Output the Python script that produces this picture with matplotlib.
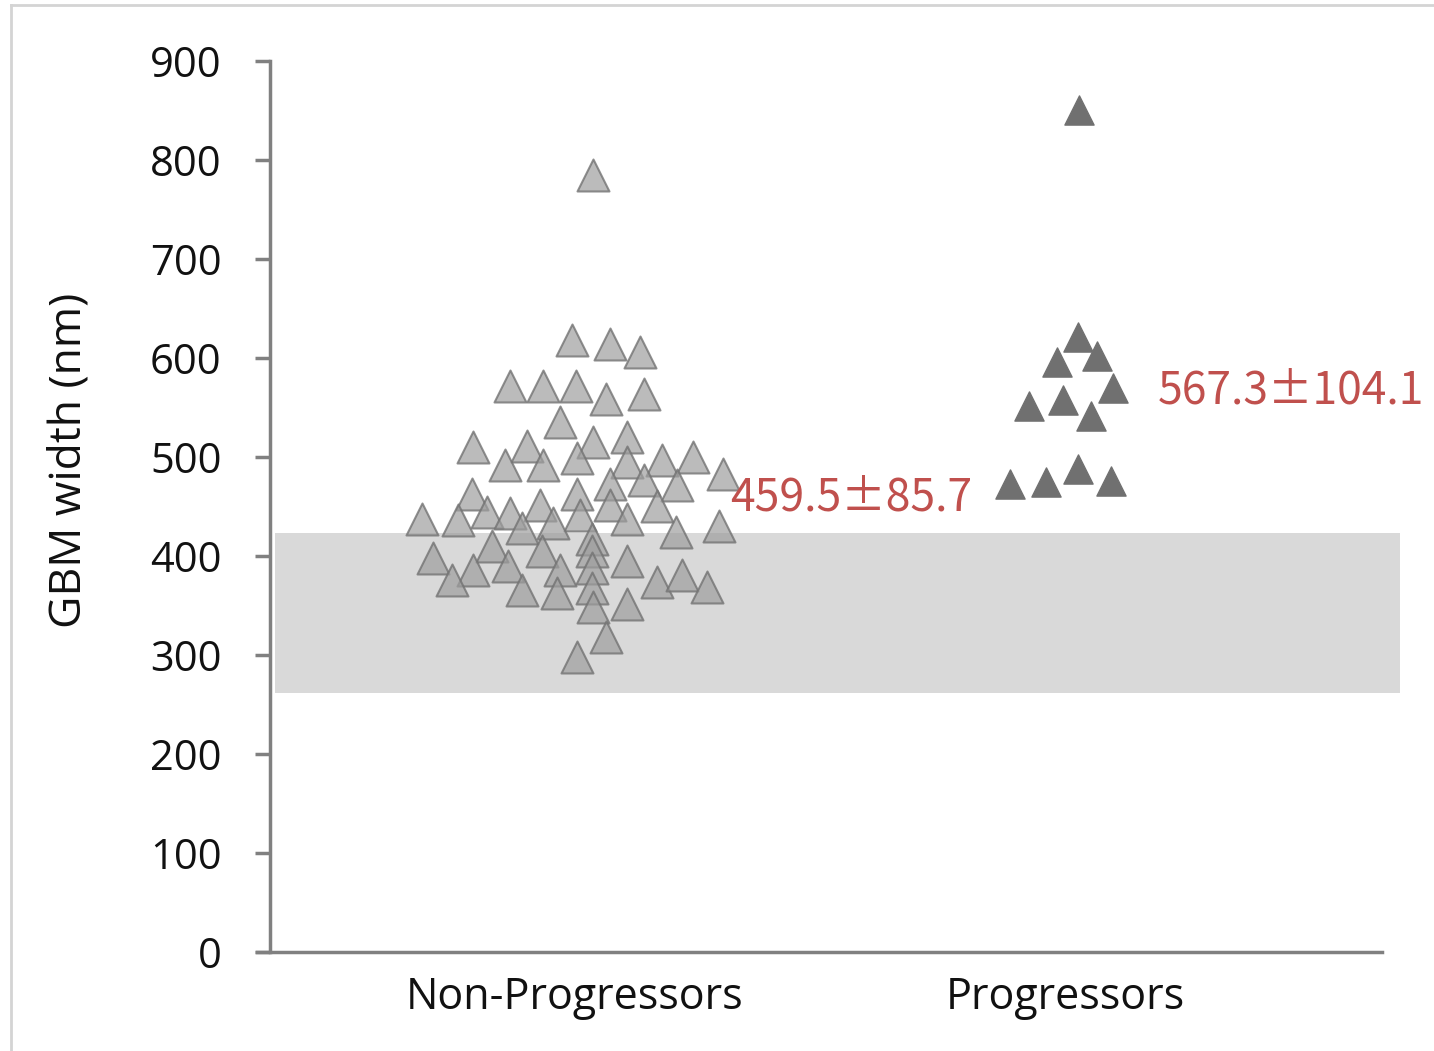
import matplotlib
matplotlib.use("Agg")
import matplotlib.pyplot as plt
from matplotlib.lines import Line2D

# ---------------- data ----------------
categories = ["Non-Progressors", "Progressors"]

non_prog_values = [618, 614, 606, 572, 572, 572, 559, 564, 535, 510,
                   511, 515, 520, 492, 492, 499, 495, 497, 500, 483,
                   477, 473, 472, 463, 463, 437, 436, 444, 443, 452,
                   452, 451, 441, 428, 433, 437, 424, 430, 417, 410,
                   398, 405, 405, 395, 386, 390, 386, 388, 376, 366,
                   363, 368, 374, 381, 369, 348, 352, 318, 298, 785]
non_prog_jitter = [-0.006, 0.071, 0.133, -0.133, -0.065, 0.002, 0.063, 0.141, -0.031, -0.208,
                   -0.098, 0.037, 0.106, -0.143, -0.065, 0.004, 0.106, 0.178, 0.241, 0.302,
                   0.141, 0.071, 0.208, -0.210, 0.004, -0.312, -0.239, -0.180, -0.133, -0.071,
                   0.071, 0.167, 0.010, -0.108, -0.045, 0.106, 0.206, 0.294, 0.035, -0.169,
                   -0.290, -0.067, 0.035, 0.106, -0.208, -0.137, -0.031, 0.035, -0.251, -0.108,
                   -0.037, 0.035, 0.167, 0.218, 0.269, 0.037, 0.106, 0.063, 0.004, 0.037]

prog_values = [851, 621, 596, 602, 570, 552, 558, 541, 473, 475, 488, 476]
prog_jitter = [0.029, 0.027, -0.016, 0.065, 0.098, -0.073, -0.004, 0.053, -0.112, -0.039, 0.027, 0.094]

normal_range = [262, 423]
summary_labels = ["459.5\u00b185.7", "567.3\u00b1104.1"]
summary_means = [459.5, 567.3]

yticks = [0, 100, 200, 300, 400, 500, 600, 700, 800, 900]
ylabel = "GBM width (nm)"

# ---------------- figure ----------------
W, H = 1434, 1051
fig = plt.figure(figsize=(W / 100, H / 100), dpi=100)

ax_left, ax_right = 270, 1400
ax_bottom, ax_top = 952, 61
ax = fig.add_axes([ax_left / W, (H - ax_bottom) / H,
                   (ax_right - ax_left) / W, (ax_bottom - ax_top) / H])

px_per_unit = 490.0
x0 = 1 - (575 - ax_left) / px_per_unit
x1 = 2 + (ax_right - 1065) / px_per_unit
ax.set_xlim(x0, x1)
ax.set_ylim(0, 900)

# normal range band
ax.axhspan(normal_range[0], normal_range[1], xmin=5 / (ax_right - ax_left), xmax=1,
           color="#d9d9d9", zorder=0, lw=0)

# points
xs_np = [1 + j for j in non_prog_jitter]
ax.scatter(xs_np, non_prog_values, marker="^", s=23 ** 2,
           facecolor=(0.62, 0.62, 0.62, 0.70), edgecolor=(0.45, 0.45, 0.45, 0.8),
           linewidth=1.5, zorder=3)
xs_p = [2 + j for j in prog_jitter]
ax.scatter(xs_p, prog_values, marker="^", s=21 ** 2,
           facecolor="#707070", edgecolor="#707070", linewidth=1.0, zorder=3)

# summary labels
red = "#c0504d"
txt_font = ["Noto Sans CJK SC", "DejaVu Sans"]
ax.text(1.316, summary_means[0], summary_labels[0], color=red, fontsize=32,
        family=txt_font, va="center", ha="left", zorder=4)
ax.text(2.19, summary_means[1], summary_labels[1], color=red, fontsize=32,
        family=txt_font, va="center", ha="left", zorder=4)

# axes styling
for s in ["top", "right"]:
    ax.spines[s].set_visible(False)
spine_col = "#808080"
ax.spines["left"].set_color(spine_col)
ax.spines["left"].set_linewidth(2.5)
ax.spines["bottom"].set_color(spine_col)
ax.spines["bottom"].set_linewidth(2.5)
ax.spines["bottom"].set_bounds(x0 - 13 / px_per_unit, 2 + (1382 - 1065) / px_per_unit)
ax.spines["bottom"].set_zorder(5)
ax.spines["left"].set_zorder(5)

lab_font = "Open Sans"
ax.set_yticks(yticks)
ax.set_yticklabels([str(t) for t in yticks], fontsize=30, family=lab_font, color="#111111")
ax.tick_params(axis="y", length=11, width=2.5, color=spine_col, pad=24, direction="out")
ax.set_xticks([1, 2])
ax.set_xticklabels(categories, fontsize=31, family=lab_font, color="#111111")
ax.tick_params(axis="x", length=0, pad=17)
ax.set_ylabel(ylabel, fontsize=32, family=lab_font, color="#111111")
ax.yaxis.set_label_coords((92 - ax_left) / (ax_right - ax_left),
                          (ax_bottom - 460) / (ax_bottom - ax_top))

# thin frame like the screenshot border
fig.add_artist(Line2D([11 / W, 11 / W], [0, 1 - 5 / H], transform=fig.transFigure,
                      color="#d4d4d4", lw=2))
fig.add_artist(Line2D([11 / W, 1], [1 - 5 / H, 1 - 5 / H], transform=fig.transFigure,
                      color="#d4d4d4", lw=2))

fig.savefig("out.png", dpi=100)
